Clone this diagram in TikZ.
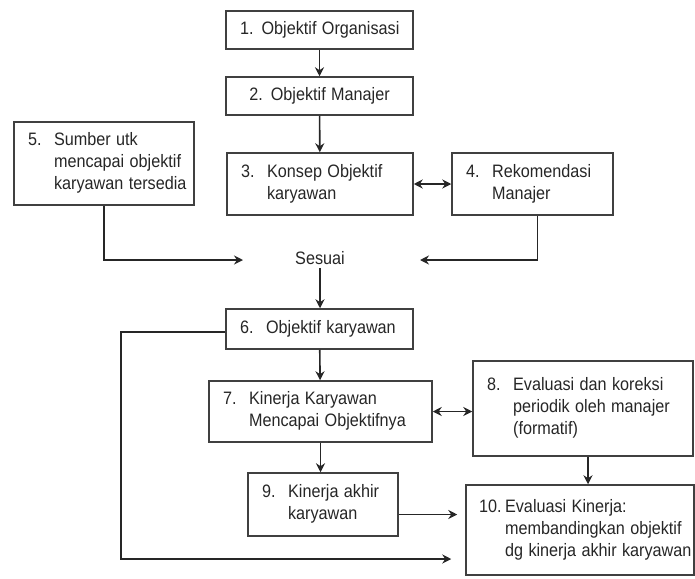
\documentclass[tikz,border=0pt]{standalone}
\usepackage{fontspec}
\setmainfont{Liberation Sans}
\usetikzlibrary{arrows.meta}

\newcommand{\nt}[1]{\scalebox{0.9}[1]{#1}}
\newcommand{\numtxt}[2]{\nt{\makebox[29pt][l]{#1}\begin{tabular}[t]{@{}l@{}}#2\end{tabular}}}

\begin{document}
\begin{tikzpicture}[x=1pt,y=-1pt,
    box/.style={draw=black!75,line width=1.5pt,inner xsep=14pt,inner ysep=0pt,
      text=black!85,font=\fontsize{18}{22}\selectfont,align=left},
    lnk/.style={draw=black!85,line width=1.6pt,-{Stealth[length=9pt,width=9pt,inset=3pt]}},
    dlnk/.style={lnk,{Stealth[length=9pt,width=9pt,inset=3pt]}-{Stealth[length=9pt,width=9pt,inset=3pt]}}]
  \useasboundingbox (0,0) rectangle (695,578);

  % top chain
  \node (obj1) at (319.5,30) [box,align=center,text width=159pt,minimum height=38pt]
        {\nt{1. Objektif Organisasi}};
  \node (obj2) at (319.5,96) [box,align=center,text width=159pt,minimum height=38pt]
        {\nt{2. Objektif Manajer}};
  \node (konsep) at (320,184) [box,text width=158pt,minimum height=62pt]
        {\numtxt{3.}{Konsep Objektif\\karyawan}};
  \node (rekom) at (532.5,184) [box,text width=133pt,minimum height=62pt]
        {\numtxt{4.}{Rekomendasi\\Manajer}};
  \node (sumber) at (104,163.5) [box,text width=152pt,minimum height=83pt]
        {\numtxt{5.}{Sumber utk\\mencapai objektif\\karyawan tersedia}};

  % match point
  \node (sesuai) at (320,258) [text=black!85,font=\fontsize{18}{22}\selectfont] {\nt{Sesuai}};
  \coordinate (inL) at (243,260);
  \coordinate (inR) at (420,260);

  % lower chain
  \node (objk) at (319.5,329) [box,text width=159pt,minimum height=40pt]
        {\numtxt{6.}{Objektif karyawan}};
  \node (kin) at (320.5,411.5) [box,text width=195pt,minimum height=61pt]
        {\numtxt{7.}{Kinerja Karyawan\\Mencapai Objektifnya}};
  \node (evper) at (583,408.5) [box,text width=192pt,minimum height=95pt]
        {\numtxt{8.}{Evaluasi dan koreksi\\periodik oleh manajer\\(formatif)}};
  \node (akhir) at (323,504.5) [box,text width=122pt,minimum height=63pt]
        {\numtxt{9.}{Kinerja akhir\\karyawan}};
  \node (evkin) at (580,530) [box,inner xsep=13pt,text width=202pt,minimum height=90pt]
        {\numtxt{10.}{Evaluasi Kinerja:\\membandingkan objektif\\dg kinerja akhir karyawan}};
  \coordinate (lft) at (121,559);

  % arrows
  \draw[lnk] (obj1) -- (obj2);
  \draw[lnk] (obj2) -- (konsep);
  \draw[dlnk] (konsep) -- (rekom);
  \draw[lnk] (sumber.south) |- (inL);
  \draw[lnk] ([xshift=5pt]rekom.south) |- (inR);
  \draw[lnk] (sesuai.south) -- (sesuai.south |- objk.north);
  \draw[lnk] (objk) -- (kin);
  \draw[dlnk] (kin.east) -- (kin.east -| evper.west);
  \draw[lnk] (kin.south) -- (kin.south |- akhir.north);
  \draw[lnk] ([xshift=5pt]evper.south) -- ([xshift=5pt]evper.south |- evkin.north);
  \draw[lnk,shorten >=8pt] ([yshift=-10pt]akhir.east) -- ([yshift=-10pt]akhir.east -| evkin.west);
  \draw[lnk,shorten >=14pt] ([yshift=-3pt]objk.west) -| (lft) -- (lft -| evkin.west);
\end{tikzpicture}
\end{document}
